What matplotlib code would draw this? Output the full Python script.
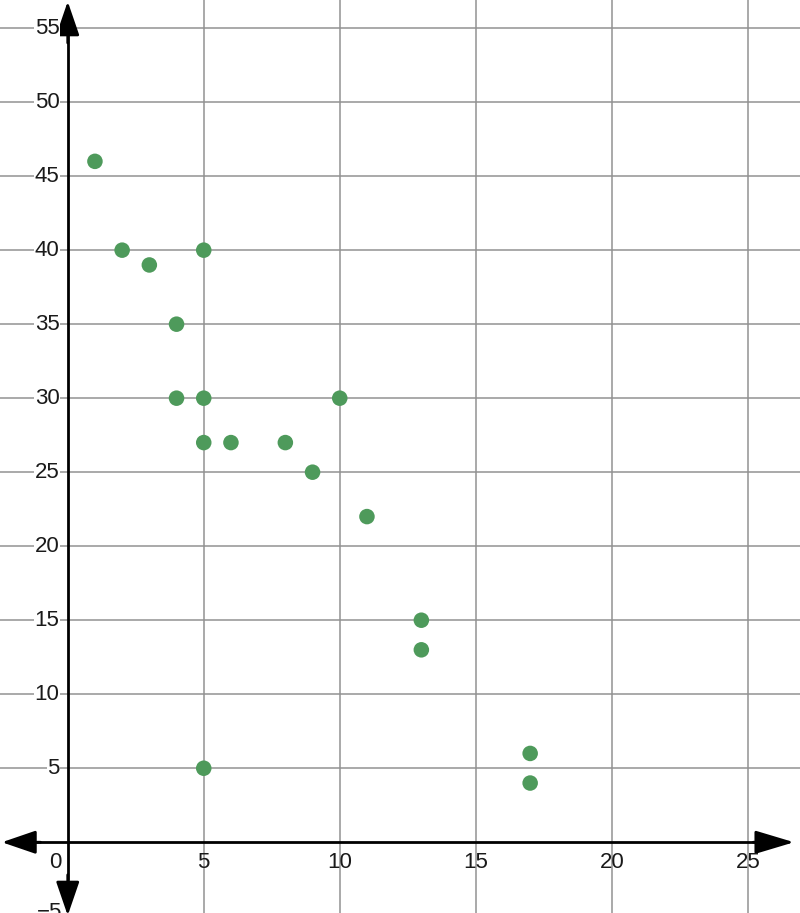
import numpy as np
import matplotlib
matplotlib.use("Agg")
import matplotlib.pyplot as plt

plt.rcParams['font.family'] = ['Liberation Sans', 'DejaVu Sans']

# data points
x_vals = [1, 2, 3, 4, 4, 5, 5, 5, 5, 6, 8, 9, 10, 11, 13, 13, 17, 17]
y_vals = [46, 40, 39, 35, 30, 40, 30, 27, 5, 27, 27, 25, 30, 22, 15, 13, 6, 4]

x_ticks = [0, 5, 10, 15, 20, 25]
y_ticks = [5, 10, 15, 20, 25, 30, 35, 40, 45, 50, 55]

fig = plt.figure(figsize=(8, 9.13), dpi=100)
ax = fig.add_axes([0, 0, 1, 1])
ax.set_xlim(-2.49, 26.92)
ax.set_ylim(-4.78, 56.9)
ax.axis('off')

# grid
for gx in x_ticks[1:]:
    ax.axvline(gx, color='#929292', lw=1.1, zorder=1)
for gy in y_ticks:
    ax.axhline(gy, color='#929292', lw=1.1, zorder=1)

# axes with arrows
ax.plot([-1.5, 26.0], [0, 0], color='black', lw=2, zorder=3)
ax.plot([0, 0], [-2.5, 55.5], color='black', lw=2, zorder=3)

def arrow(tip, tail, length):
    ax.annotate('', xy=tip, xytext=tail, zorder=4, annotation_clip=False,
                arrowprops=dict(arrowstyle='-|>,head_length=%.2f,head_width=0.36' % length,
                                mutation_scale=20, color='black', lw=2,
                                shrinkA=0, shrinkB=0))

arrow((-2.42, 0), (-1.0, 0), 1.05)
arrow((26.7, 0), (25.2, 0), 1.2)
arrow((0, 56.8), (0, 54.0), 1.05)
arrow((0, -4.95), (0, -2.2), 1.05)

# tick labels
for tx in x_ticks:
    off = -0.47 if tx == 0 else 0
    ax.text(tx + off, -1.4, str(tx), ha='center', va='center', fontsize=16,
            color='#1a1a1a', zorder=5)
for ty in y_ticks:
    ax.text(-0.3, ty, str(ty), ha='right', va='center', fontsize=16, color='#1a1a1a',
            bbox=dict(facecolor='white', edgecolor='none', pad=0.3), zorder=5)
ax.text(-0.2, -4.72, '\u22125', ha='right', va='center', fontsize=16, color='#1a1a1a', zorder=5)

ax.scatter(x_vals, y_vals, s=125, color='#4e9a5b', edgecolors='none', zorder=6)

fig.savefig('out.png', dpi=100)
